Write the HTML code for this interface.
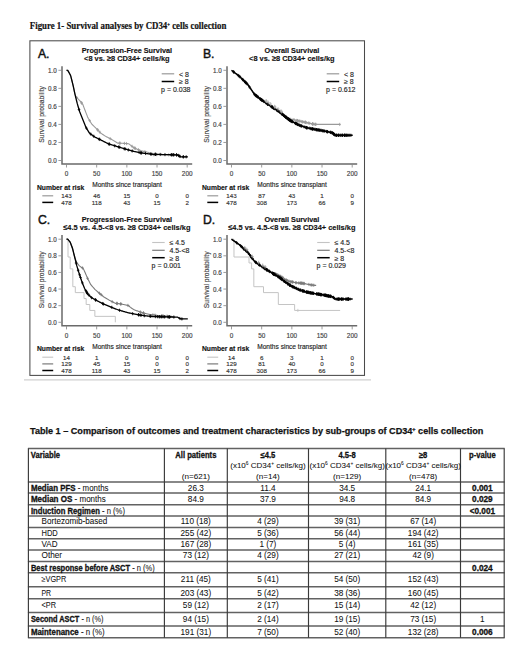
<!DOCTYPE html>
<html><head><meta charset="utf-8"><title>Figure 1 and Table 1</title>
<style>
html,body{margin:0;padding:0;background:#fff;}
body{width:520px;height:659px;overflow:hidden;position:relative;}
svg{position:absolute;left:0;top:0;font-family:"Liberation Sans", sans-serif;}
text{paint-order:stroke;}
.tb text{stroke:#111;stroke-width:0.06px;}
.tb [font-weight=bold]{stroke:#000;stroke-width:0.28px;}
.ch text{stroke:#333;stroke-width:0.15px;}
</style></head><body>
<svg width="520" height="659" viewBox="0 0 520 659">
<rect x="0" y="0" width="520" height="659" fill="#fff"/>
<text transform="translate(29.8,29.4) scale(0.85,1)" font-family='"Liberation Serif", serif' font-size="10.4" font-weight="bold" fill="#111" style="stroke:#111;stroke-width:0.2px">Figure 1- Survival analyses by CD34<tspan font-size="5.5" dy="-2.6">+</tspan><tspan dy="2.6"> cells collection</tspan></text>
<rect x="29.9" y="40.8" width="334.6" height="334.6" fill="none" stroke="#4a4a4a" stroke-width="1.05"/>
<path d="M24 379.8H371" stroke="#d0d0d0" stroke-width="1.2"/>
<g class="ch"><text x="37.9" y="57.5" font-size="12.2" fill="#111" style="stroke:#111;stroke-width:0.45px">A.</text>
<text transform="translate(126.85,52.6) scale(0.925,1)" font-size="7.85" font-weight="bold" text-anchor="middle" fill="#111">Progression-Free Survival</text>
<text transform="translate(126.85,61.0) scale(0.945,1)" font-size="7.85" font-weight="bold" text-anchor="middle" fill="#111">&lt;8 vs. ≥8 CD34+ cells/kg</text>
<path d="M62.00 66.3V163.90H192.20" stroke="#6a6a6a" stroke-width="1.5" fill="none"/>
<text x="56.7" y="163.10" font-size="6.3" text-anchor="end" fill="#444">0.0</text>
<text x="56.7" y="145.06" font-size="6.3" text-anchor="end" fill="#444">0.2</text>
<text x="56.7" y="127.02" font-size="6.3" text-anchor="end" fill="#444">0.4</text>
<text x="56.7" y="108.98" font-size="6.3" text-anchor="end" fill="#444">0.6</text>
<text x="56.7" y="90.94" font-size="6.3" text-anchor="end" fill="#444">0.8</text>
<text x="56.7" y="72.90" font-size="6.3" text-anchor="end" fill="#444">1.0</text>
<text x="66.50" y="175.8" font-size="6.4" text-anchor="middle" fill="#444">0</text>
<text x="96.67" y="175.8" font-size="6.4" text-anchor="middle" fill="#444">50</text>
<text x="126.85" y="175.8" font-size="6.4" text-anchor="middle" fill="#444">100</text>
<text x="157.03" y="175.8" font-size="6.4" text-anchor="middle" fill="#444">150</text>
<text x="187.20" y="175.8" font-size="6.4" text-anchor="middle" fill="#444">200</text>
<path d="M58.40 160.50H62.00M58.40 142.46H62.00M58.40 124.42H62.00M58.40 106.38H62.00M58.40 88.34H62.00M58.40 70.30H62.00M66.50 163.9V167.50M96.67 163.9V167.50M126.85 163.9V167.50M157.03 163.9V167.50M187.20 163.9V167.50" stroke="#8a8a8a" stroke-width="0.85" fill="none"/>
<text transform="translate(44.2,114.4) rotate(-90)" font-size="6.75" text-anchor="middle" fill="#444">Survival probability</text>
<path d="M66.50 70.30L67.10 70.30L67.71 70.30L68.31 71.37L68.91 72.44L69.52 73.51L70.12 74.58L70.72 75.92L71.33 78.32L71.93 80.72L72.53 83.11L73.14 85.67L73.74 88.47L74.35 91.27L74.95 94.07L75.55 95.74L76.16 96.64L76.76 97.51L77.36 98.14L77.97 98.78L78.57 99.41L79.17 100.04L79.78 100.68L80.38 101.42L80.98 102.17L81.59 102.91L82.19 103.65L82.79 104.40L83.40 106.00L84.00 107.61L84.61 109.22L85.21 110.81L85.81 112.34L86.42 113.88L87.02 115.41L87.62 116.94L88.23 118.31L88.83 119.28L89.43 120.26L90.04 121.23L90.64 122.20L91.24 123.18L91.85 124.15L92.45 124.74L93.05 125.34L93.66 125.93L94.26 126.52L94.86 127.12L95.47 127.71L96.07 128.30L96.67 128.91L97.28 129.53L97.88 130.15L98.49 130.77L99.09 131.39L99.69 132.02L100.30 132.64L100.90 133.26L101.50 133.65L102.11 134.04L102.71 134.43L103.31 134.83L103.92 135.22L104.52 135.61L105.12 136.00L105.73 136.36L106.33 136.67L106.93 136.99L107.54 137.30L108.14 137.61L108.75 137.92L109.35 138.24L109.95 138.55L110.56 138.86L111.16 139.17L111.76 139.50L112.37 139.87L112.97 140.24L113.57 140.60L114.18 140.97L114.78 141.33L115.38 141.70L115.99 142.07L116.59 142.43L117.19 142.80L117.80 143.10L118.40 143.12L119.00 143.15L119.61 143.18L120.21 143.21L120.81 143.23L121.42 143.26L122.02 143.29L122.63 143.32L123.23 143.34L123.83 143.38L124.44 143.42L125.04 143.46L125.64 143.51L126.25 143.55L126.85 143.59L127.45 143.64L128.06 143.68L128.66 143.72L129.26 144.18L129.87 144.64L130.47 145.10L131.07 145.57L131.68 146.03L132.28 146.49L132.88 146.95L133.49 147.41L134.09 147.87L134.70 148.20L135.30 148.44L135.90 148.68L136.51 148.92L137.11 149.16L137.71 149.40L138.32 149.64L138.92 149.88L139.52 150.12L140.13 150.36L140.73 150.60L141.33 150.84L141.94 151.02L142.54 151.14L143.14 151.27L143.75 151.40L144.35 151.53L144.95 151.65L145.56 151.78L146.16 151.91L146.77 152.04L147.37 152.17L147.97 152.29L148.58 152.42L149.18 152.74L149.78 153.19L150.39 153.64L150.99 154.10L151.59 154.55L152.20 154.56L152.80 154.57L153.40 154.58L154.01 154.58L154.61 154.59L155.21 154.60L155.82 154.61L156.42 154.62L157.03 154.63L157.63 154.64L158.23 154.65L158.84 154.66L159.44 154.67L160.04 154.68L160.65 154.69L161.25 154.70L161.85 154.71L162.46 154.72L163.06 154.73L163.66 154.74L164.27 154.76L164.87 154.77L165.47 154.79L166.08 154.80L166.68 154.82L167.28 154.83L167.89 154.85L168.49 154.86L169.10 154.88L169.70 154.89L170.30 154.91" stroke="#9a9a9a" stroke-width="1.1" fill="none"/>
<path d="M76.78 95.94V99.14M75.50 97.54H78.06M81.54 101.25V104.45M80.26 102.85H82.82M81.68 101.43V104.63M80.40 103.03H82.96M89.64 118.99V122.19M88.36 120.59H90.92M97.47 128.13V131.33M96.19 129.73H98.75M97.81 128.48V131.68M96.53 130.08H99.09M99.81 130.54V133.74M98.53 132.14H101.09M110.16 137.06V140.26M108.88 138.66H111.44M119.54 141.58V144.78M118.26 143.18H120.82M120.11 141.60V144.80M118.83 143.20H121.39M124.49 141.82V145.02M123.21 143.42H125.77M126.46 141.96V145.16M125.18 143.56H127.74M132.04 144.71V147.91M130.76 146.31H133.32M134.08 146.26V149.46M132.80 147.86H135.36M134.94 146.69V149.89M133.66 148.29H136.22M135.33 146.85V150.05M134.05 148.45H136.61M138.36 148.06V151.26M137.08 149.66H139.64M144.89 150.04V153.24M143.61 151.64H146.17M153.80 152.98V156.18M152.52 154.58H155.08M153.89 152.98V156.18M152.61 154.58H155.17M156.75 153.03V156.23M155.47 154.63H158.03M168.69 153.27V156.47M167.41 154.87H169.97" stroke="#9a9a9a" stroke-width="0.8" fill="none"/>
<path d="M66.50 70.30L67.10 70.30L67.71 70.30L68.31 71.37L68.91 72.44L69.52 73.51L70.12 74.58L70.72 75.92L71.33 78.32L71.93 80.72L72.53 83.11L73.14 85.67L73.74 88.47L74.35 91.27L74.95 94.07L75.55 96.65L76.16 99.07L76.76 101.49L77.36 103.91L77.97 106.01L78.57 108.04L79.17 110.06L79.78 112.03L80.38 113.54L80.98 115.04L81.59 116.54L82.19 118.05L82.79 119.55L83.40 121.06L84.00 122.58L84.61 124.10L85.21 125.61L85.81 127.13L86.42 128.12L87.02 129.10L87.62 130.09L88.23 131.08L88.83 132.07L89.43 133.06L90.04 133.60L90.64 134.03L91.24 134.47L91.85 134.90L92.45 135.33L93.05 135.76L93.66 136.19L94.26 136.62L94.86 137.05L95.47 137.35L96.07 137.64L96.67 137.94L97.28 138.24L97.88 138.54L98.49 138.83L99.09 139.13L99.69 139.43L100.30 139.73L100.90 140.02L101.50 140.33L102.11 140.64L102.71 140.94L103.31 141.25L103.92 141.55L104.52 141.86L105.12 142.16L105.73 142.47L106.33 142.77L106.93 143.08L107.54 143.38L108.14 143.69L108.75 143.96L109.35 144.14L109.95 144.32L110.56 144.51L111.16 144.69L111.76 144.87L112.37 145.06L112.97 145.24L113.57 145.42L114.18 145.61L114.78 145.79L115.38 145.97L115.99 146.16L116.59 146.34L117.19 146.53L117.80 146.71L118.40 146.90L119.00 147.08L119.61 147.27L120.21 147.45L120.81 147.64L121.42 147.82L122.02 148.00L122.63 148.19L123.23 148.37L123.83 148.56L124.44 148.75L125.04 148.93L125.64 149.12L126.25 149.31L126.85 149.49L127.45 149.67L128.06 149.82L128.66 149.98L129.26 150.14L129.87 150.30L130.47 150.46L131.07 150.62L131.68 150.78L132.28 150.94L132.88 151.10L133.49 151.26L134.09 151.42L134.70 151.55L135.30 151.67L135.90 151.79L136.51 151.91L137.11 152.03L137.71 152.15L138.32 152.27L138.92 152.38L139.52 152.50L140.13 152.62L140.73 152.74L141.33 152.86L141.94 152.98L142.54 153.10L143.14 153.21L143.75 153.27L144.35 153.34L144.95 153.40L145.56 153.47L146.16 153.53L146.77 153.60L147.37 153.66L147.97 153.73L148.58 153.79L149.18 153.85L149.78 153.92L150.39 153.98L150.99 154.05L151.59 154.11L152.20 154.18L152.80 154.24L153.40 154.28L154.01 154.30L154.61 154.32L155.21 154.33L155.82 154.35L156.42 154.37L157.03 154.38L157.63 154.40L158.23 154.42L158.84 154.43L159.44 154.45L160.04 154.46L160.65 154.48L161.25 154.50L161.85 154.51L162.46 154.53L163.06 154.55L163.66 154.56L164.27 154.58L164.87 154.59L165.47 154.61L166.08 154.62L166.68 154.64L167.28 154.65L167.89 154.67L168.49 154.68L169.10 154.70L169.70 154.71L170.30 154.73L170.91 154.74L171.51 154.76L172.11 154.77L172.72 154.79L173.32 154.80L173.92 154.82L174.53 154.83L175.13 154.85L175.73 154.86L176.34 154.88L176.94 154.89L177.54 154.91L178.15 155.29L178.75 155.67L179.35 156.04L179.96 156.42L180.56 156.80L181.17 156.80L181.77 156.80L182.37 156.80L182.98 156.80L183.58 156.80L184.18 156.80L184.79 156.80L185.39 156.80L185.99 156.80L186.60 156.80L187.20 156.80L187.80 156.80" stroke="#000" stroke-width="1.3" fill="none"/>
<path d="M79.01 107.93V111.13M77.73 109.53H80.29M86.43 126.54V129.74M85.15 128.14H87.71M90.73 132.50V135.70M89.45 134.10H92.01M93.76 134.66V137.86M92.48 136.26H95.04M99.12 137.55V140.75M97.84 139.15H100.40M99.78 137.87V141.07M98.50 139.47H101.06M109.16 142.48V145.68M107.88 144.08H110.44M109.19 142.49V145.69M107.91 144.09H110.47M114.73 144.18V147.38M113.45 145.78H116.01M118.63 145.37V148.57M117.35 146.97H119.91M119.65 145.68V148.88M118.37 147.28H120.93M124.25 147.09V150.29M122.97 148.69H125.53M125.19 147.38V150.58M123.91 148.98H126.47M128.33 148.30V151.50M127.05 149.90H129.61M132.18 149.31V152.51M130.90 150.91H133.46M139.09 150.82V154.02M137.81 152.42H140.37M140.78 151.15V154.35M139.50 152.75H142.06M140.87 151.17V154.37M139.59 152.77H142.15M141.55 151.30V154.50M140.27 152.90H142.83M145.52 151.86V155.06M144.24 153.46H146.80M150.50 152.40V155.60M149.22 154.00H151.78M151.69 152.52V155.72M150.41 154.12H152.97M155.25 152.73V155.93M153.97 154.33H156.53M155.28 152.74V155.94M154.00 154.34H156.56M155.81 152.75V155.95M154.53 154.35H157.09M160.21 152.87V156.07M158.93 154.47H161.49M164.97 152.99V156.19M163.69 154.59H166.25M171.17 153.15V156.35M169.89 154.75H172.45M171.64 153.16V156.36M170.36 154.76H172.92M172.19 153.17V156.37M170.91 154.77H173.47M173.67 153.21V156.41M172.39 154.81H174.95M173.68 153.21V156.41M172.40 154.81H174.96M176.50 153.28V156.48M175.22 154.88H177.78M176.56 153.28V156.48M175.28 154.88H177.84M178.39 153.84V157.04M177.11 155.44H179.67M179.27 154.39V157.59M177.99 155.99H180.55M180.01 154.85V158.05M178.73 156.45H181.29M183.25 155.20V158.40M181.97 156.80H184.53M183.35 155.20V158.40M182.07 156.80H184.63M186.19 155.20V158.40M184.91 156.80H187.47" stroke="#000" stroke-width="0.8" fill="none"/>
<path d="M161.7 73.8H174.2" stroke="#9a9a9a" stroke-width="1.2"/>
<text x="179.0" y="76.6" font-size="7.0" fill="#222">&lt; 8</text>
<path d="M161.7 81.5H174.2" stroke="#000" stroke-width="1.5"/>
<text x="179.0" y="84.2" font-size="7.0" fill="#222">≥ 8</text>
<text x="161.1" y="92.0" font-size="7.0" fill="#222">p = 0.038</text>
<text x="36.9" y="189.6" font-size="6.75" font-weight="bold" fill="#111">Number at risk</text>
<text x="92.2" y="186.9" font-size="6.6" fill="#222">Months since transplant</text>
<path d="M42.3 195.8H53.2" stroke="#9a9a9a" stroke-width="1.2"/>
<text x="66.50" y="198.1" font-size="6.2" text-anchor="middle" fill="#333">143</text>
<text x="96.67" y="198.1" font-size="6.2" text-anchor="middle" fill="#333">46</text>
<text x="126.85" y="198.1" font-size="6.2" text-anchor="middle" fill="#333">15</text>
<text x="157.03" y="198.1" font-size="6.2" text-anchor="middle" fill="#333">0</text>
<text x="187.20" y="198.1" font-size="6.2" text-anchor="middle" fill="#333">0</text>
<path d="M42.3 202.4H53.2" stroke="#000" stroke-width="1.5"/>
<text x="66.50" y="205.0" font-size="6.2" text-anchor="middle" fill="#333">478</text>
<text x="96.67" y="205.0" font-size="6.2" text-anchor="middle" fill="#333">118</text>
<text x="126.85" y="205.0" font-size="6.2" text-anchor="middle" fill="#333">43</text>
<text x="157.03" y="205.0" font-size="6.2" text-anchor="middle" fill="#333">15</text>
<text x="187.20" y="205.0" font-size="6.2" text-anchor="middle" fill="#333">2</text>
<text x="202.9" y="57.5" font-size="12.2" fill="#111" style="stroke:#111;stroke-width:0.45px">B.</text>
<text transform="translate(291.85,52.6) scale(0.925,1)" font-size="7.85" font-weight="bold" text-anchor="middle" fill="#111">Overall Survival</text>
<text transform="translate(291.85,61.0) scale(0.945,1)" font-size="7.85" font-weight="bold" text-anchor="middle" fill="#111">&lt;8 vs. ≥8 CD34+ cells/kg</text>
<path d="M227.00 66.3V163.90H357.20" stroke="#6a6a6a" stroke-width="1.5" fill="none"/>
<text x="221.7" y="163.10" font-size="6.3" text-anchor="end" fill="#444">0.0</text>
<text x="221.7" y="145.06" font-size="6.3" text-anchor="end" fill="#444">0.2</text>
<text x="221.7" y="127.02" font-size="6.3" text-anchor="end" fill="#444">0.4</text>
<text x="221.7" y="108.98" font-size="6.3" text-anchor="end" fill="#444">0.6</text>
<text x="221.7" y="90.94" font-size="6.3" text-anchor="end" fill="#444">0.8</text>
<text x="221.7" y="72.90" font-size="6.3" text-anchor="end" fill="#444">1.0</text>
<text x="231.50" y="175.8" font-size="6.4" text-anchor="middle" fill="#444">0</text>
<text x="261.68" y="175.8" font-size="6.4" text-anchor="middle" fill="#444">50</text>
<text x="291.85" y="175.8" font-size="6.4" text-anchor="middle" fill="#444">100</text>
<text x="322.02" y="175.8" font-size="6.4" text-anchor="middle" fill="#444">150</text>
<text x="352.20" y="175.8" font-size="6.4" text-anchor="middle" fill="#444">200</text>
<path d="M223.40 160.50H227.00M223.40 142.46H227.00M223.40 124.42H227.00M223.40 106.38H227.00M223.40 88.34H227.00M223.40 70.30H227.00M231.50 163.9V167.50M261.68 163.9V167.50M291.85 163.9V167.50M322.02 163.9V167.50M352.20 163.9V167.50" stroke="#8a8a8a" stroke-width="0.85" fill="none"/>
<text transform="translate(209.2,114.4) rotate(-90)" font-size="6.75" text-anchor="middle" fill="#444">Survival probability</text>
<path d="M231.50 70.30L232.10 70.76L232.71 71.22L233.31 71.67L233.91 72.13L234.52 72.59L235.12 73.05L235.72 73.51L236.33 73.96L236.93 74.42L237.53 74.88L238.14 75.34L238.74 75.80L239.35 76.25L239.95 76.85L240.55 77.44L241.16 78.03L241.76 78.62L242.36 79.22L242.97 79.81L243.57 80.40L244.17 81.00L244.78 81.59L245.38 82.18L245.98 82.77L246.59 83.37L247.19 83.96L247.79 84.55L248.40 85.43L249.00 86.31L249.60 87.19L250.21 88.06L250.81 88.94L251.42 89.82L252.02 90.70L252.62 91.58L253.23 92.45L253.83 93.33L254.43 94.21L255.04 94.81L255.64 95.28L256.24 95.76L256.85 96.23L257.45 96.71L258.05 97.18L258.66 97.66L259.26 98.13L259.86 98.61L260.47 99.08L261.07 99.56L261.68 100.00L262.28 100.40L262.88 100.81L263.49 101.22L264.09 101.62L264.69 102.03L265.30 102.44L265.90 102.84L266.50 103.25L267.11 103.65L267.71 104.06L268.31 104.47L268.92 104.87L269.52 105.28L270.12 105.69L270.73 106.09L271.33 106.48L271.93 106.88L272.54 107.28L273.14 107.68L273.75 108.07L274.35 108.47L274.95 108.87L275.56 109.26L276.16 109.66L276.76 110.06L277.37 110.45L277.97 110.85L278.57 111.25L279.18 111.64L279.78 112.09L280.38 112.60L280.99 113.11L281.59 113.62L282.19 114.13L282.80 114.64L283.40 115.15L284.00 115.66L284.61 116.18L285.21 116.64L285.81 117.05L286.42 117.45L287.02 117.85L287.63 118.25L288.23 118.65L288.83 119.06L289.44 119.46L290.04 119.50L290.64 119.54L291.25 119.57L291.85 119.61L292.45 119.65L293.06 119.69L293.66 119.73L294.26 119.87L294.87 120.01L295.47 120.15L296.07 120.30L296.68 120.44L297.28 120.58L297.88 120.72L298.49 120.86L299.09 121.01L299.70 121.15L300.30 121.29L300.90 121.43L301.51 121.57L302.11 121.71L302.71 121.84L303.32 121.96L303.92 122.09L304.52 122.21L305.13 122.34L305.73 122.46L306.33 122.59L306.94 122.71L307.54 122.84L308.14 122.96L308.75 123.09L309.35 123.21L309.95 123.34L310.56 123.48L311.16 123.62L311.77 123.76L312.37 123.90L312.97 124.04L313.58 124.18L314.18 124.27L314.78 124.32L315.39 124.37L315.99 124.42L316.59 124.42L317.20 124.42L317.80 124.42L318.40 124.42L319.01 124.42L319.61 124.42L320.21 124.42L320.82 124.42L321.42 124.42L322.02 124.42L322.63 124.42L323.23 124.42L323.84 124.42L324.44 124.42L325.04 124.42L325.65 124.42L326.25 124.42L326.85 124.42L327.46 124.42L328.06 124.42L328.66 124.42L329.27 124.42L329.87 124.42L330.47 124.42L331.08 124.42L331.68 124.42L332.28 124.42L332.89 124.42L333.49 124.42L334.10 124.42L334.70 124.42L335.30 124.42L335.91 124.42L336.51 124.42L337.11 124.42L337.72 124.42L338.32 124.42L338.92 124.42L339.53 124.42L339.71 124.42" stroke="#9a9a9a" stroke-width="1.2" fill="none"/>
<path d="M237.96 73.61V76.81M236.68 75.21H239.24M239.33 74.64V77.84M238.05 76.24H240.61M242.71 77.95V81.15M241.43 79.55H243.99M249.99 86.15V89.35M248.71 87.75H251.27M256.81 94.60V97.80M255.53 96.20H258.09M265.67 101.09V104.29M264.39 102.69H266.95M278.00 109.27V112.47M276.72 110.87H279.28M279.69 110.41V113.61M278.41 112.01H280.97M280.90 111.43V114.63M279.62 113.03H282.18M288.28 117.09V120.29M287.00 118.69H289.56M289.68 117.87V121.07M288.40 119.47H290.96M289.98 117.89V121.09M288.70 119.49H291.26M290.03 117.90V121.10M288.75 119.50H291.31M290.05 117.90V121.10M288.77 119.50H291.33M290.92 117.95V121.15M289.64 119.55H292.20M293.07 118.09V121.29M291.79 119.69H294.35M294.19 118.25V121.45M292.91 119.85H295.47M296.81 118.87V122.07M295.53 120.47H298.09M297.24 118.97V122.17M295.96 120.57H298.52M297.36 119.00V122.20M296.08 120.60H298.64M297.82 119.11V122.31M296.54 120.71H299.10M299.09 119.41V122.61M297.81 121.01H300.37M299.91 119.60V122.80M298.63 121.20H301.19M301.34 119.93V123.13M300.06 121.53H302.62M302.56 120.21V123.41M301.28 121.81H303.84M302.96 120.29V123.49M301.68 121.89H304.24M305.01 120.71V123.91M303.73 122.31H306.29M305.12 120.74V123.94M303.84 122.34H306.40M305.41 120.80V124.00M304.13 122.40H306.69M305.52 120.82V124.02M304.24 122.42H306.80M306.32 120.99V124.19M305.04 122.59H307.60M308.34 121.40V124.60M307.06 123.00H309.62M309.71 121.69V124.89M308.43 123.29H310.99M312.40 122.31V125.51M311.12 123.91H313.68M312.53 122.34V125.54M311.25 123.94H313.81M312.76 122.39V125.59M311.48 123.99H314.04M313.18 122.49V125.69M311.90 124.09H314.46M314.87 122.73V125.93M313.59 124.33H316.15M315.46 122.78V125.98M314.18 124.38H316.74M315.95 122.82V126.02M314.67 124.42H317.23M339.71 122.82V126.02M338.43 124.42H340.99" stroke="#9a9a9a" stroke-width="0.8" fill="none"/>
<path d="M231.50 70.30L232.10 70.76L232.71 71.22L233.31 71.67L233.91 72.13L234.52 72.59L235.12 73.05L235.72 73.51L236.33 73.96L236.93 74.42L237.53 74.88L238.14 75.34L238.74 75.80L239.35 76.25L239.95 76.85L240.55 77.44L241.16 78.03L241.76 78.62L242.36 79.22L242.97 79.81L243.57 80.40L244.17 81.00L244.78 81.59L245.38 82.18L245.98 82.77L246.59 83.37L247.19 83.96L247.79 84.55L248.40 85.43L249.00 86.31L249.60 87.19L250.21 88.06L250.81 88.94L251.42 89.82L252.02 90.70L252.62 91.58L253.23 92.45L253.83 93.33L254.43 94.21L255.04 94.81L255.64 95.28L256.24 95.76L256.85 96.23L257.45 96.71L258.05 97.18L258.66 97.66L259.26 98.13L259.86 98.61L260.47 99.08L261.07 99.56L261.68 100.00L262.28 100.40L262.88 100.81L263.49 101.22L264.09 101.62L264.69 102.03L265.30 102.44L265.90 102.84L266.50 103.25L267.11 103.65L267.71 104.06L268.31 104.47L268.92 104.87L269.52 105.28L270.12 105.69L270.73 106.09L271.33 106.48L271.93 106.88L272.54 107.28L273.14 107.68L273.75 108.07L274.35 108.47L274.95 108.87L275.56 109.26L276.16 109.66L276.76 110.06L277.37 110.45L277.97 110.85L278.57 111.25L279.18 111.64L279.78 112.09L280.38 112.60L280.99 113.11L281.59 113.62L282.19 114.13L282.80 114.64L283.40 115.15L284.00 115.66L284.61 116.18L285.21 116.66L285.81 117.12L286.42 117.58L287.02 118.03L287.63 118.49L288.23 118.94L288.83 119.40L289.44 119.85L290.04 120.31L290.64 120.77L291.25 121.09L291.85 121.40L292.45 121.71L293.06 122.02L293.66 122.33L294.26 122.64L294.87 122.94L295.47 123.25L296.07 123.56L296.68 123.87L297.28 124.18L297.88 124.49L298.49 124.80L299.09 125.11L299.70 125.35L300.30 125.56L300.90 125.76L301.51 125.97L302.11 126.17L302.71 126.38L303.32 126.58L303.92 126.79L304.52 126.99L305.13 127.20L305.73 127.40L306.33 127.61L306.94 127.76L307.54 127.88L308.14 128.01L308.75 128.14L309.35 128.26L309.95 128.39L310.56 128.52L311.16 128.64L311.77 128.77L312.37 128.90L312.97 129.02L313.58 129.15L314.18 129.26L314.78 129.37L315.39 129.47L315.99 129.57L316.59 129.68L317.20 129.78L317.80 129.88L318.40 129.99L319.01 130.09L319.61 130.19L320.21 130.29L320.82 130.40L321.42 130.50L322.02 130.60L322.63 130.71L323.23 130.81L323.84 130.91L324.44 131.05L325.04 131.18L325.65 131.31L326.25 131.44L326.85 131.57L327.46 131.70L328.06 131.84L328.66 131.97L329.27 132.10L329.87 132.23L330.47 132.36L331.08 132.49L331.68 132.62L332.28 132.76L332.89 133.14L333.49 133.69L334.10 134.24L334.70 134.79L335.30 135.33L335.91 135.33L336.51 135.33L337.11 135.33L337.72 135.33L338.32 135.33L338.92 135.33L339.53 135.33L340.13 135.33L340.73 135.33L341.34 135.33L341.94 135.33L342.54 135.33L343.15 135.33L343.75 135.33L344.35 135.33L344.96 135.33L345.56 135.33L346.17 135.33L346.77 135.33L347.37 135.33L347.98 135.33L348.58 135.33L349.18 135.33L349.79 135.33L350.39 135.33L350.99 135.33L351.60 135.33L352.20 135.33L352.68 135.33" stroke="#000" stroke-width="1.5" fill="none"/>
<path d="M233.57 70.27V73.47M232.29 71.87H234.85M233.76 70.41V73.61M232.48 72.01H235.04M238.62 74.10V77.30M237.34 75.70H239.90M240.03 75.33V78.53M238.75 76.93H241.31M242.58 77.83V81.03M241.30 79.43H243.86M242.94 78.18V81.38M241.66 79.78H244.22M244.63 79.85V83.05M243.35 81.45H245.91M244.95 80.15V83.35M243.67 81.75H246.23M245.56 80.75V83.95M244.28 82.35H246.84M245.80 80.99V84.19M244.52 82.59H247.08M246.26 81.45V84.65M244.98 83.05H247.54M247.16 82.33V85.53M245.88 83.93H248.44M249.39 85.28V88.48M248.11 86.88H250.67M254.31 92.44V95.64M253.03 94.04H255.59M255.14 93.29V96.49M253.86 94.89H256.42M255.81 93.82V97.02M254.53 95.42H257.09M256.09 94.04V97.24M254.81 95.64H257.37M256.36 94.25V97.45M255.08 95.85H257.64M256.91 94.68V97.88M255.63 96.28H258.19M257.78 95.37V98.57M256.50 96.97H259.06M258.24 95.73V98.93M256.96 97.33H259.52M259.99 97.11V100.31M258.71 98.71H261.27M260.46 97.48V100.68M259.18 99.08H261.74M260.93 97.85V101.05M259.65 99.45H262.21M261.44 98.24V101.44M260.16 99.84H262.72M261.49 98.27V101.47M260.21 99.87H262.77M262.21 98.76V101.96M260.93 100.36H263.49M262.25 98.78V101.98M260.97 100.38H263.53M263.36 99.53V102.73M262.08 101.13H264.64M263.96 99.93V103.13M262.68 101.53H265.24M265.47 100.96V104.16M264.19 102.56H266.75M267.32 102.20V105.40M266.04 103.80H268.60M267.59 102.38V105.58M266.31 103.98H268.87M267.67 102.44V105.64M266.39 104.04H268.95M267.89 102.58V105.78M266.61 104.18H269.17M268.16 102.77V105.97M266.88 104.37H269.44M270.70 104.47V107.67M269.42 106.07H271.98M271.99 105.32V108.52M270.71 106.92H273.27M272.18 105.44V108.64M270.90 107.04H273.46M272.23 105.48V108.68M270.95 107.08H273.51M272.88 105.90V109.10M271.60 107.50H274.16M273.37 106.22V109.42M272.09 107.82H274.65M273.73 106.47V109.67M272.45 108.07H275.01M274.06 106.68V109.88M272.78 108.28H275.34M274.09 106.70V109.90M272.81 108.30H275.37M274.69 107.10V110.30M273.41 108.70H275.97M277.09 108.67V111.87M275.81 110.27H278.37M277.13 108.70V111.90M275.85 110.30H278.41M277.37 108.86V112.06M276.09 110.46H278.65M277.60 109.01V112.21M276.32 110.61H278.88M278.69 109.72V112.92M277.41 111.32H279.97M279.89 110.58V113.78M278.61 112.18H281.17M280.02 110.69V113.89M278.74 112.29H281.30M281.57 112.01V115.21M280.29 113.61H282.85M281.82 112.22V115.42M280.54 113.82H283.10M281.85 112.24V115.44M280.57 113.84H283.13M282.54 112.82V116.02M281.26 114.42H283.82M283.35 113.51V116.71M282.07 115.11H284.63M283.55 113.68V116.88M282.27 115.28H284.83M283.83 113.92V117.12M282.55 115.52H285.11M284.60 114.57V117.77M283.32 116.17H285.88M284.65 114.61V117.81M283.37 116.21H285.93M285.58 115.34V118.54M284.30 116.94H286.86M285.83 115.53V118.73M284.55 117.13H287.11M286.02 115.67V118.87M284.74 117.27H287.30M286.14 115.77V118.97M284.86 117.37H287.42M286.54 116.07V119.27M285.26 117.67H287.82M286.73 116.21V119.41M285.45 117.81H288.01M287.39 116.71V119.91M286.11 118.31H288.67M287.87 117.07V120.27M286.59 118.67H289.15M288.15 117.29V120.49M286.87 118.89H289.43M288.57 117.60V120.80M287.29 119.20H289.85M288.60 117.62V120.82M287.32 119.22H289.88M288.98 117.91V121.11M287.70 119.51H290.26M289.08 117.99V121.19M287.80 119.59H290.36M289.56 118.35V121.55M288.28 119.95H290.84M289.61 118.39V121.59M288.33 119.99H290.89M289.68 118.44V121.64M288.40 120.04H290.96M290.48 119.04V122.24M289.20 120.64H291.76M290.78 119.25V122.45M289.50 120.85H292.06M291.29 119.51V122.71M290.01 121.11H292.57M291.68 119.71V122.91M290.40 121.31H292.96M292.06 119.91V123.11M290.78 121.51H293.34M292.36 120.06V123.26M291.08 121.66H293.64M295.18 121.51V124.71M293.90 123.11H296.46M295.59 121.72V124.92M294.31 123.32H296.87M295.90 121.87V125.07M294.62 123.47H297.18M296.17 122.01V125.21M294.89 123.61H297.45M296.48 122.17V125.37M295.20 123.77H297.76M297.58 122.73V125.93M296.30 124.33H298.86M297.67 122.78V125.98M296.39 124.38H298.95M297.97 122.94V126.14M296.69 124.54H299.25M299.20 123.56V126.76M297.92 125.16H300.48M299.70 123.76V126.96M298.42 125.36H300.98M300.66 124.08V127.28M299.38 125.68H301.94M301.30 124.30V127.50M300.02 125.90H302.58M301.72 124.44V127.64M300.44 126.04H303.00M304.12 125.26V128.46M302.84 126.86H305.40M305.76 125.81V129.01M304.48 127.41H307.04M306.33 126.00V129.20M305.05 127.60H307.61M306.55 126.08V129.28M305.27 127.68H307.83M306.78 126.12V129.32M305.50 127.72H308.06M307.26 126.22V129.42M305.98 127.82H308.54M309.28 126.65V129.85M308.00 128.25H310.56M310.61 126.93V130.13M309.33 128.53H311.89M311.35 127.08V130.28M310.07 128.68H312.63M312.28 127.28V130.48M311.00 128.88H313.56M312.48 127.32V130.52M311.20 128.92H313.76M312.87 127.40V130.60M311.59 129.00H314.15M313.15 127.46V130.66M311.87 129.06H314.43M314.75 127.76V130.96M313.47 129.36H316.03M315.10 127.82V131.02M313.82 129.42H316.38M316.22 128.01V131.21M314.94 129.61H317.50M316.34 128.03V131.23M315.06 129.63H317.62M316.68 128.09V131.29M315.40 129.69H317.96M317.63 128.25V131.45M316.35 129.85H318.91M318.11 128.33V131.53M316.83 129.93H319.39M318.43 128.39V131.59M317.15 129.99H319.71M319.65 128.60V131.80M318.37 130.20H320.93M319.66 128.60V131.80M318.38 130.20H320.94M320.92 128.82V132.02M319.64 130.42H322.20M321.23 128.87V132.07M319.95 130.47H322.51M322.62 129.11V132.31M321.34 130.71H323.90M323.05 129.18V132.38M321.77 130.78H324.33M323.90 129.33V132.53M322.62 130.93H325.18M324.78 129.52V132.72M323.50 131.12H326.06M326.63 129.92V133.12M325.35 131.52H327.91M326.90 129.98V133.18M325.62 131.58H328.18M327.61 130.14V133.34M326.33 131.74H328.89M327.63 130.14V133.34M326.35 131.74H328.91M330.21 130.70V133.90M328.93 132.30H331.49M330.62 130.79V133.99M329.34 132.39H331.90M331.18 130.92V134.12M329.90 132.52H332.46M332.08 131.11V134.31M330.80 132.71H333.36M332.30 131.16V134.36M331.02 132.76H333.58M333.26 131.87V135.07M331.98 133.47H334.54M333.47 132.07V135.27M332.19 133.67H334.75M333.49 132.09V135.29M332.21 133.69H334.77M333.54 132.13V135.33M332.26 133.73H334.82M333.59 132.17V135.37M332.31 133.77H334.87M333.87 132.43V135.63M332.59 134.03H335.15M334.51 133.01V136.21M333.23 134.61H335.79M335.16 133.60V136.80M333.88 135.20H336.44M336.13 133.73V136.93M334.85 135.33H337.41M336.43 133.73V136.93M335.15 135.33H337.71M336.60 133.73V136.93M335.32 135.33H337.88M338.15 133.73V136.93M336.87 135.33H339.43M338.25 133.73V136.93M336.97 135.33H339.53M338.84 133.73V136.93M337.56 135.33H340.12M338.93 133.73V136.93M337.65 135.33H340.21M340.61 133.73V136.93M339.33 135.33H341.89M341.09 133.73V136.93M339.81 135.33H342.37M342.21 133.73V136.93M340.93 135.33H343.49M342.51 133.73V136.93M341.23 135.33H343.79M342.89 133.73V136.93M341.61 135.33H344.17M344.53 133.73V136.93M343.25 135.33H345.81M344.65 133.73V136.93M343.37 135.33H345.93M344.85 133.73V136.93M343.57 135.33H346.13M345.19 133.73V136.93M343.91 135.33H346.47M346.31 133.73V136.93M345.03 135.33H347.59M346.72 133.73V136.93M345.44 135.33H348.00M347.39 133.73V136.93M346.11 135.33H348.67M348.66 133.73V136.93M347.38 135.33H349.94M349.76 133.73V136.93M348.48 135.33H351.04M350.94 133.73V136.93M349.66 135.33H352.22" stroke="#000" stroke-width="0.8" fill="none"/>
<path d="M266.11 99.20V102.80M264.67 101.00H267.55M266.39 99.39V102.99M264.95 101.19H267.83M268.25 100.64V104.24M266.81 102.44H269.69M270.59 102.21V105.81M269.15 104.01H272.03M274.51 104.79V108.39M273.07 106.59H275.95M275.18 105.23V108.83M273.74 107.03H276.62M278.07 107.13V110.73M276.63 108.93H279.51M280.96 109.30V112.90M279.52 111.10H282.40M281.63 109.87V113.47M280.19 111.67H283.07" stroke="#b0b0b0" stroke-width="0.8" fill="none"/>
<path d="M326.7 73.8H339.2" stroke="#9a9a9a" stroke-width="1.2"/>
<text x="344.0" y="76.6" font-size="7.0" fill="#222">&lt; 8</text>
<path d="M326.7 81.5H339.2" stroke="#000" stroke-width="1.5"/>
<text x="344.0" y="84.2" font-size="7.0" fill="#222">≥ 8</text>
<text x="326.1" y="92.0" font-size="7.0" fill="#222">p = 0.612</text>
<text x="201.9" y="189.6" font-size="6.75" font-weight="bold" fill="#111">Number at risk</text>
<text x="257.2" y="186.9" font-size="6.6" fill="#222">Months since transplant</text>
<path d="M207.3 195.8H218.2" stroke="#9a9a9a" stroke-width="1.2"/>
<text x="231.50" y="198.1" font-size="6.2" text-anchor="middle" fill="#333">143</text>
<text x="261.68" y="198.1" font-size="6.2" text-anchor="middle" fill="#333">87</text>
<text x="291.85" y="198.1" font-size="6.2" text-anchor="middle" fill="#333">43</text>
<text x="322.02" y="198.1" font-size="6.2" text-anchor="middle" fill="#333">1</text>
<text x="352.20" y="198.1" font-size="6.2" text-anchor="middle" fill="#333">0</text>
<path d="M207.3 202.4H218.2" stroke="#000" stroke-width="1.5"/>
<text x="231.50" y="205.0" font-size="6.2" text-anchor="middle" fill="#333">478</text>
<text x="261.68" y="205.0" font-size="6.2" text-anchor="middle" fill="#333">308</text>
<text x="291.85" y="205.0" font-size="6.2" text-anchor="middle" fill="#333">173</text>
<text x="322.02" y="205.0" font-size="6.2" text-anchor="middle" fill="#333">66</text>
<text x="352.20" y="205.0" font-size="6.2" text-anchor="middle" fill="#333">9</text>
<text x="37.9" y="224.0" font-size="12.2" fill="#111" style="stroke:#111;stroke-width:0.45px">C.</text>
<text transform="translate(126.85,221.5) scale(0.925,1)" font-size="7.85" font-weight="bold" text-anchor="middle" fill="#111">Progression-Free Survival</text>
<text transform="translate(126.85,229.6) scale(0.945,1)" font-size="7.85" font-weight="bold" text-anchor="middle" fill="#111">≤4.5 vs. 4.5-&lt;8 vs. ≥8 CD34+ cells/kg</text>
<path d="M62.00 235.0V325.80H192.20" stroke="#6a6a6a" stroke-width="1.5" fill="none"/>
<text x="56.7" y="324.90" font-size="6.3" text-anchor="end" fill="#444">0.0</text>
<text x="56.7" y="308.28" font-size="6.3" text-anchor="end" fill="#444">0.2</text>
<text x="56.7" y="291.66" font-size="6.3" text-anchor="end" fill="#444">0.4</text>
<text x="56.7" y="275.04" font-size="6.3" text-anchor="end" fill="#444">0.6</text>
<text x="56.7" y="258.42" font-size="6.3" text-anchor="end" fill="#444">0.8</text>
<text x="56.7" y="241.80" font-size="6.3" text-anchor="end" fill="#444">1.0</text>
<text x="66.50" y="337.5" font-size="6.4" text-anchor="middle" fill="#444">0</text>
<text x="96.67" y="337.5" font-size="6.4" text-anchor="middle" fill="#444">50</text>
<text x="126.85" y="337.5" font-size="6.4" text-anchor="middle" fill="#444">100</text>
<text x="157.03" y="337.5" font-size="6.4" text-anchor="middle" fill="#444">150</text>
<text x="187.20" y="337.5" font-size="6.4" text-anchor="middle" fill="#444">200</text>
<path d="M58.40 322.30H62.00M58.40 305.68H62.00M58.40 289.06H62.00M58.40 272.44H62.00M58.40 255.82H62.00M58.40 239.20H62.00M66.50 325.8V329.40M96.67 325.8V329.40M126.85 325.8V329.40M157.03 325.8V329.40M187.20 325.8V329.40" stroke="#8a8a8a" stroke-width="0.85" fill="none"/>
<text transform="translate(44.2,279.8) rotate(-90)" font-size="6.75" text-anchor="middle" fill="#444">Survival probability</text>
<path d="M66.50 239.20H68.01H68.01V257.01H70.18H70.18V268.88H72.84H72.84V286.69H75.31H75.31V292.62H84.00H84.00V298.56H86.17H86.17V304.49H89.80H89.80V310.43H94.86H94.86V316.36H115.32H115.32V322.30" stroke="#c4c4c4" stroke-width="1.0" fill="none"/>
<path d="M66.50 239.20L67.10 239.20L67.71 239.20L68.31 239.93L68.91 240.66L69.52 241.39L70.12 242.12L70.72 243.61L71.33 245.18L71.93 246.75L72.53 248.49L73.14 250.92L73.74 253.34L74.35 255.76L74.95 257.72L75.55 259.36L76.16 260.99L76.76 262.55L77.36 263.36L77.97 264.17L78.57 264.97L79.17 265.65L79.78 266.11L80.38 266.57L80.98 267.04L81.59 267.41L82.19 267.78L82.79 268.15L83.40 268.73L84.00 270.10L84.61 271.47L85.21 272.84L85.81 274.22L86.42 275.63L87.02 277.04L87.62 278.45L88.23 279.66L88.83 280.84L89.43 282.03L90.04 283.22L90.64 284.41L91.24 285.12L91.85 285.83L92.45 286.55L93.05 287.26L93.66 287.98L94.26 288.69L94.86 289.40L95.47 289.93L96.07 290.44L96.67 290.95L97.28 291.46L97.88 291.96L98.49 292.47L99.09 292.98L99.69 293.48L100.30 293.98L100.90 294.48L101.50 294.99L102.11 295.49L102.71 295.99L103.31 296.49L103.92 296.94L104.52 297.30L105.12 297.67L105.73 298.04L106.33 298.41L106.93 298.78L107.54 299.15L108.14 299.51L108.75 299.88L109.35 300.25L109.95 300.57L110.56 300.88L111.16 301.18L111.76 301.48L112.37 301.79L112.97 302.09L113.57 302.39L114.18 302.69L114.78 303.00L115.38 303.28L115.99 303.36L116.59 303.43L117.19 303.51L117.80 303.59L118.40 303.67L119.00 303.75L119.61 303.82L120.21 303.90L120.81 303.98L121.42 304.08L122.02 304.20L122.63 304.33L123.23 304.45L123.83 304.57L124.44 304.70L125.04 304.82L125.64 304.95L126.25 305.07L126.85 305.19L127.45 305.32L128.06 305.44L128.66 305.73L129.26 306.27L129.87 306.80L130.47 307.34L131.07 307.76L131.68 308.17L132.28 308.59L132.88 309.00L133.49 309.42L134.09 309.84L134.70 310.04L135.30 310.25L135.90 310.46L136.51 310.67L137.11 310.87L137.71 311.08L138.32 311.29L138.92 311.50L139.52 311.70L140.13 311.91L140.73 312.12L141.33 312.33L141.94 312.54L142.54 312.74L143.14 312.95L143.75 313.16L144.35 313.29L144.95 313.41L145.56 313.54L146.16 313.67L146.77 313.80L147.37 313.93L147.97 314.05L148.58 314.18L149.18 314.31L149.78 314.44L150.39 314.57L150.99 314.69L151.59 314.82L152.20 314.89L152.80 314.95L153.40 315.02L154.01 315.08L154.61 315.15L155.21 315.21L155.82 315.28L156.42 315.35L157.03 315.41L157.63 315.48L158.23 315.54L158.84 315.61L159.44 315.67L160.04 315.74L160.65 315.81L161.25 315.87L161.85 315.94L162.46 316.00L163.06 316.07L163.66 316.09L164.27 316.12L164.87 316.14L165.47 316.17L166.08 316.19L166.68 316.21L167.28 316.24L167.89 316.26L168.49 316.29L169.10 316.31L169.70 316.34L170.30 316.36L170.91 316.39L171.51 316.41L172.11 316.43L172.72 316.46L173.32 316.48" stroke="#7a7a7a" stroke-width="1.1" fill="none"/>
<path d="M82.55 266.40V269.60M81.27 268.00H83.83M87.59 276.78V279.98M86.31 278.38H88.87M99.51 291.73V294.93M98.23 293.33H100.79M101.19 293.12V296.32M99.91 294.72H102.47M112.14 300.07V303.27M110.86 301.67H113.42M116.66 301.84V305.04M115.38 303.44H117.94M117.09 301.90V305.10M115.81 303.50H118.37M117.19 301.91V305.11M115.91 303.51H118.47M120.61 302.35V305.55M119.33 303.95H121.89M120.93 302.39V305.59M119.65 303.99H122.21M127.94 303.82V307.02M126.66 305.42H129.22M140.30 310.37V313.57M139.02 311.97H141.58M143.41 311.44V314.64M142.13 313.04H144.69M143.52 311.48V314.68M142.24 313.08H144.80M152.88 313.36V316.56M151.60 314.96H154.16M155.06 313.60V316.80M153.78 315.20H156.34M161.56 314.30V317.50M160.28 315.90H162.84M162.31 314.39V317.59M161.03 315.99H163.59M163.33 314.48V317.68M162.05 316.08H164.61M167.11 314.63V317.83M165.83 316.23H168.39" stroke="#7a7a7a" stroke-width="0.8" fill="none"/>
<path d="M66.50 239.20L67.10 239.20L67.71 239.20L68.31 239.93L68.91 240.66L69.52 241.39L70.12 242.12L70.72 243.61L71.33 245.18L71.93 246.75L72.53 248.49L73.14 250.92L73.74 253.34L74.35 255.76L74.95 258.23L75.55 260.72L76.16 263.22L76.76 265.66L77.36 267.63L77.97 269.61L78.57 271.59L79.17 273.50L79.78 275.32L80.38 277.14L80.98 278.95L81.59 280.77L82.19 282.41L82.79 283.94L83.40 285.46L84.00 286.98L84.61 288.51L85.21 289.64L85.81 290.67L86.42 291.71L87.02 292.74L87.62 293.78L88.23 294.43L88.83 295.04L89.43 295.65L90.04 296.26L90.64 296.87L91.24 297.48L91.85 297.83L92.45 298.16L93.05 298.50L93.66 298.83L94.26 299.16L94.86 299.49L95.47 299.82L96.07 300.15L96.67 300.48L97.28 300.81L97.88 301.14L98.49 301.45L99.09 301.76L99.69 302.07L100.30 302.37L100.90 302.68L101.50 302.99L102.11 303.30L102.71 303.61L103.31 303.92L103.92 304.20L104.52 304.44L105.12 304.68L105.73 304.93L106.33 305.17L106.93 305.41L107.54 305.65L108.14 305.89L108.75 306.14L109.35 306.38L109.95 306.62L110.56 306.86L111.16 307.11L111.76 307.35L112.37 307.59L112.97 307.83L113.57 308.07L114.18 308.31L114.78 308.55L115.38 308.79L115.99 309.03L116.59 309.27L117.19 309.51L117.80 309.75L118.40 309.97L119.00 310.14L119.61 310.31L120.21 310.49L120.81 310.66L121.42 310.83L122.02 311.00L122.63 311.17L123.23 311.35L123.83 311.52L124.44 311.69L125.04 311.86L125.64 312.03L126.25 312.21L126.85 312.38L127.45 312.55L128.06 312.72L128.66 312.87L129.26 312.99L129.87 313.11L130.47 313.23L131.07 313.35L131.68 313.47L132.28 313.59L132.88 313.71L133.49 313.82L134.09 313.94L134.70 314.06L135.30 314.17L135.90 314.28L136.51 314.38L137.11 314.49L137.71 314.60L138.32 314.71L138.92 314.82L139.52 314.93L140.13 315.04L140.73 315.15L141.33 315.26L141.94 315.37L142.54 315.48L143.14 315.58L143.75 315.64L144.35 315.70L144.95 315.76L145.56 315.82L146.16 315.88L146.77 315.94L147.37 316.00L147.97 316.06L148.58 316.12L149.18 316.18L149.78 316.24L150.39 316.30L150.99 316.36L151.59 316.42L152.20 316.48L152.80 316.54L153.40 316.57L154.01 316.59L154.61 316.60L155.21 316.62L155.82 316.63L156.42 316.65L157.03 316.66L157.63 316.68L158.23 316.69L158.84 316.71L159.44 316.72L160.04 316.74L160.65 316.75L161.25 316.77L161.85 316.79L162.46 316.80L163.06 316.82L163.66 316.83L164.27 316.84L164.87 316.86L165.47 316.87L166.08 316.88L166.68 316.90L167.28 316.91L167.89 316.93L168.49 316.94L169.10 316.95L169.70 316.97L170.30 316.98L170.91 317.00L171.51 317.01L172.11 317.02L172.72 317.04L173.32 317.05L173.92 317.06L174.53 317.08L175.13 317.09L175.73 317.11L176.34 317.12L176.94 317.13L177.54 317.15L178.15 317.50L178.75 317.85L179.35 318.19L179.96 318.54L180.56 318.89L181.17 318.89L181.77 318.89L182.37 318.89L182.98 318.89L183.58 318.89L184.18 318.89L184.79 318.89L185.39 318.89L185.99 318.89L186.60 318.89L187.20 318.89L187.80 318.89" stroke="#000" stroke-width="1.3" fill="none"/>
<path d="M76.10 261.38V264.58M74.82 262.98H77.38M78.17 268.69V271.89M76.89 270.29H79.45M79.60 273.19V276.39M78.32 274.79H80.88M80.50 275.89V279.09M79.22 277.49H81.78M82.38 281.29V284.49M81.10 282.89H83.66M85.80 289.06V292.26M84.52 290.66H87.08M86.64 290.49V293.69M85.36 292.09H87.92M87.07 291.22V294.42M85.79 292.82H88.35M87.47 291.92V295.12M86.19 293.52H88.75M89.09 293.70V296.90M87.81 295.30H90.37M91.58 296.09V299.29M90.30 297.69H92.86M95.55 298.27V301.47M94.27 299.87H96.83M95.62 298.30V301.50M94.34 299.90H96.90M102.59 301.94V305.14M101.31 303.54H103.87M103.46 302.39V305.59M102.18 303.99H104.74M111.75 305.74V308.94M110.47 307.34H113.03M119.51 308.69V311.89M118.23 310.29H120.79M132.64 312.06V315.26M131.36 313.66H133.92M138.50 313.15V316.35M137.22 314.75H139.78M138.52 313.15V316.35M137.24 314.75H139.80M140.20 313.46V316.66M138.92 315.06H141.48M141.17 313.63V316.83M139.89 315.23H142.45M144.33 314.10V317.30M143.05 315.70H145.61M150.08 314.67V317.87M148.80 316.27H151.36M150.75 314.73V317.93M149.47 316.33H152.03M155.40 315.02V318.22M154.12 316.62H156.68M157.47 315.08V318.28M156.19 316.68H158.75M159.17 315.12V318.32M157.89 316.72H160.45M159.68 315.13V318.33M158.40 316.73H160.96M161.23 315.17V318.37M159.95 316.77H162.51M162.00 315.19V318.39M160.72 316.79H163.28M164.03 315.24V318.44M162.75 316.84H165.31M164.73 315.25V318.45M163.45 316.85H166.01M168.00 315.33V318.53M166.72 316.93H169.28M168.91 315.35V318.55M167.63 316.95H170.19M169.51 315.36V318.56M168.23 316.96H170.79M169.78 315.37V318.57M168.50 316.97H171.06M173.85 315.46V318.66M172.57 317.06H175.13M179.89 316.91V320.11M178.61 318.51H181.17M181.89 317.29V320.49M180.61 318.89H183.17" stroke="#000" stroke-width="0.8" fill="none"/>
<path d="M152.2 242.5H164.7" stroke="#c4c4c4" stroke-width="1.1"/>
<text x="169.4" y="245.3" font-size="7.0" fill="#222">≤ 4.5</text>
<path d="M152.2 250.3H164.7" stroke="#7a7a7a" stroke-width="1.2"/>
<text x="169.4" y="252.9" font-size="7.0" fill="#222">4.5-&lt;8</text>
<path d="M152.2 257.7H164.7" stroke="#000" stroke-width="1.5"/>
<text x="169.4" y="260.5" font-size="7.0" fill="#222">≥ 8</text>
<text x="151.6" y="267.6" font-size="7.0" fill="#222">p = 0.001</text>
<text x="36.9" y="351.4" font-size="6.75" font-weight="bold" fill="#111">Number at risk</text>
<text x="92.2" y="348.7" font-size="6.6" fill="#222">Months since transplant</text>
<path d="M42.3 357.2H53.2" stroke="#c4c4c4" stroke-width="1.1"/>
<text x="66.50" y="359.6" font-size="6.2" text-anchor="middle" fill="#333">14</text>
<text x="96.67" y="359.6" font-size="6.2" text-anchor="middle" fill="#333">1</text>
<text x="126.85" y="359.6" font-size="6.2" text-anchor="middle" fill="#333">0</text>
<text x="157.03" y="359.6" font-size="6.2" text-anchor="middle" fill="#333">0</text>
<text x="187.20" y="359.6" font-size="6.2" text-anchor="middle" fill="#333">0</text>
<path d="M42.3 363.9H53.2" stroke="#7a7a7a" stroke-width="1.2"/>
<text x="66.50" y="366.3" font-size="6.2" text-anchor="middle" fill="#333">129</text>
<text x="96.67" y="366.3" font-size="6.2" text-anchor="middle" fill="#333">45</text>
<text x="126.85" y="366.3" font-size="6.2" text-anchor="middle" fill="#333">15</text>
<text x="157.03" y="366.3" font-size="6.2" text-anchor="middle" fill="#333">0</text>
<text x="187.20" y="366.3" font-size="6.2" text-anchor="middle" fill="#333">0</text>
<path d="M42.3 370.5H53.2" stroke="#000" stroke-width="1.5"/>
<text x="66.50" y="373.0" font-size="6.2" text-anchor="middle" fill="#333">478</text>
<text x="96.67" y="373.0" font-size="6.2" text-anchor="middle" fill="#333">118</text>
<text x="126.85" y="373.0" font-size="6.2" text-anchor="middle" fill="#333">43</text>
<text x="157.03" y="373.0" font-size="6.2" text-anchor="middle" fill="#333">15</text>
<text x="187.20" y="373.0" font-size="6.2" text-anchor="middle" fill="#333">2</text>
<text x="202.9" y="224.0" font-size="12.2" fill="#111" style="stroke:#111;stroke-width:0.45px">D.</text>
<text transform="translate(291.85,221.5) scale(0.925,1)" font-size="7.85" font-weight="bold" text-anchor="middle" fill="#111">Overall Survival</text>
<text transform="translate(291.85,229.6) scale(0.945,1)" font-size="7.85" font-weight="bold" text-anchor="middle" fill="#111">≤4.5 vs. 4.5-&lt;8 vs. ≥8 CD34+ cells/kg</text>
<path d="M227.00 235.0V325.80H357.20" stroke="#6a6a6a" stroke-width="1.5" fill="none"/>
<text x="221.7" y="324.90" font-size="6.3" text-anchor="end" fill="#444">0.0</text>
<text x="221.7" y="308.28" font-size="6.3" text-anchor="end" fill="#444">0.2</text>
<text x="221.7" y="291.66" font-size="6.3" text-anchor="end" fill="#444">0.4</text>
<text x="221.7" y="275.04" font-size="6.3" text-anchor="end" fill="#444">0.6</text>
<text x="221.7" y="258.42" font-size="6.3" text-anchor="end" fill="#444">0.8</text>
<text x="221.7" y="241.80" font-size="6.3" text-anchor="end" fill="#444">1.0</text>
<text x="231.50" y="337.5" font-size="6.4" text-anchor="middle" fill="#444">0</text>
<text x="261.68" y="337.5" font-size="6.4" text-anchor="middle" fill="#444">50</text>
<text x="291.85" y="337.5" font-size="6.4" text-anchor="middle" fill="#444">100</text>
<text x="322.02" y="337.5" font-size="6.4" text-anchor="middle" fill="#444">150</text>
<text x="352.20" y="337.5" font-size="6.4" text-anchor="middle" fill="#444">200</text>
<path d="M223.40 322.30H227.00M223.40 305.68H227.00M223.40 289.06H227.00M223.40 272.44H227.00M223.40 255.82H227.00M223.40 239.20H227.00M231.50 325.8V329.40M261.68 325.8V329.40M291.85 325.8V329.40M322.02 325.8V329.40M352.20 325.8V329.40" stroke="#8a8a8a" stroke-width="0.85" fill="none"/>
<text transform="translate(209.2,279.8) rotate(-90)" font-size="6.75" text-anchor="middle" fill="#444">Survival probability</text>
<path d="M231.50 239.20H233.97H233.97V257.01H249.00H249.00V262.94H251.60H251.60V268.88H253.83H253.83V286.69H263.49H263.49V292.62H278.33H278.33V304.49H294.63H294.63V310.43H340.13" stroke="#c4c4c4" stroke-width="1.0" fill="none"/>
<path d="M297.88 308.83V312.03M296.61 310.43H299.16" stroke="#c4c4c4" stroke-width="0.8" fill="none"/>
<path d="M231.50 239.20L232.10 239.62L232.71 240.04L233.31 240.47L233.91 240.89L234.52 241.31L235.12 241.73L235.72 242.15L236.33 242.58L236.93 243.00L237.53 243.42L238.14 243.84L238.74 244.26L239.35 244.68L239.95 245.23L240.55 245.78L241.16 246.32L241.76 246.87L242.36 247.42L242.97 247.96L243.57 248.51L244.17 249.05L244.78 249.60L245.38 250.15L245.98 250.69L246.59 251.24L247.19 251.78L247.79 252.33L248.40 253.14L249.00 253.95L249.60 254.76L250.21 255.57L250.81 256.37L251.42 257.18L252.02 257.99L252.62 258.80L253.23 259.61L253.83 260.42L254.43 261.23L255.04 261.78L255.64 262.21L256.24 262.65L256.85 263.09L257.45 263.53L258.05 263.97L258.66 264.40L259.26 264.84L259.86 265.28L260.47 265.72L261.07 266.15L261.68 266.56L262.28 266.94L262.88 267.32L263.49 267.70L264.09 268.08L264.69 268.46L265.30 268.84L265.90 269.22L266.50 269.60L267.11 269.98L267.71 270.36L268.31 270.65L268.92 270.94L269.52 271.24L270.12 271.53L270.73 271.82L271.33 272.11L271.93 272.40L272.54 272.69L273.14 272.98L273.75 273.27L274.35 273.55L274.95 273.82L275.56 274.10L276.16 274.38L276.76 274.66L277.37 274.93L277.97 275.21L278.57 275.49L279.18 275.76L279.78 276.04L280.38 276.32L280.99 276.62L281.59 276.99L282.19 277.35L282.80 277.72L283.40 278.09L284.00 278.45L284.61 278.82L285.21 279.19L285.81 279.55L286.42 279.92L287.02 280.29L287.63 280.65L288.23 281.02L288.83 281.24L289.44 281.36L290.04 281.49L290.64 281.61L291.25 281.73L291.85 281.86L292.45 281.98L293.06 282.10L293.66 282.23L294.26 282.35L294.87 282.47L295.47 282.60L296.07 282.72L296.68 282.79L297.28 282.85L297.88 282.91L298.49 282.97L299.09 283.03L299.70 283.09L300.30 283.15L300.90 283.21L301.51 283.27L302.11 283.33L302.71 283.39L303.32 283.44L303.92 283.52L304.52 283.63L305.13 283.75L305.73 283.87L306.33 283.98L306.94 284.10L307.54 284.22L308.14 284.33L308.75 284.45L309.35 284.57L309.95 284.68L310.56 284.80L311.16 284.92L311.77 285.01L312.37 285.08L312.97 285.14L313.58 285.21L314.18 285.27L314.78 285.34L315.39 285.40L315.99 285.47L316.17 285.49" stroke="#7a7a7a" stroke-width="1.2" fill="none"/>
<path d="M237.28 241.64V244.84M236.00 243.24H238.56M246.14 249.24V252.44M244.86 250.84H247.42M246.71 249.75V252.95M245.43 251.35H247.99M247.68 250.63V253.83M246.40 252.23H248.96M248.22 251.30V254.50M246.94 252.90H249.50M248.40 251.54V254.74M247.12 253.14H249.68M251.12 255.19V258.39M249.84 256.79H252.40M266.82 268.20V271.40M265.54 269.80H268.10M268.83 269.30V272.50M267.55 270.90H270.11M272.34 270.99V274.19M271.06 272.59H273.62M274.92 272.21V275.41M273.64 273.81H276.20M275.46 272.46V275.66M274.18 274.06H276.74M276.03 272.72V275.92M274.75 274.32H277.31M276.70 273.03V276.23M275.42 274.63H277.98M277.33 273.31V276.51M276.05 274.91H278.61M278.22 273.72V276.92M276.94 275.32H279.50M278.93 274.05V277.25M277.65 275.65H280.21M280.61 274.82V278.02M279.33 276.42H281.89M280.62 274.83V278.03M279.34 276.43H281.90M281.99 275.63V278.83M280.71 277.23H283.27M282.91 276.19V279.39M281.63 277.79H284.19M286.19 278.18V281.38M284.91 279.78H287.47M287.66 279.07V282.27M286.38 280.67H288.94M289.10 279.69V282.89M287.82 281.29H290.38M290.86 280.05V283.25M289.58 281.65H292.14M291.06 280.10V283.30M289.78 281.70H292.34M292.68 280.42V283.62M291.40 282.02H293.96M292.68 280.43V283.63M291.40 282.03H293.96M295.94 281.09V284.29M294.66 282.69H297.22M295.98 281.10V284.30M294.70 282.70H297.26M298.75 281.40V284.60M297.47 283.00H300.03M300.24 281.54V284.74M298.96 283.14H301.52M301.06 281.62V284.82M299.78 283.22H302.34M301.08 281.62V284.82M299.80 283.22H302.36M301.76 281.69V284.89M300.48 283.29H303.04M302.42 281.76V284.96M301.14 283.36H303.70M303.79 281.89V285.09M302.51 283.49H305.07M303.83 281.90V285.10M302.55 283.50H305.11M304.22 281.97V285.17M302.94 283.57H305.50M308.92 282.88V286.08M307.64 284.48H310.20M311.04 283.29V286.49M309.76 284.89H312.32M311.96 283.44V286.64M310.68 285.04H313.24M313.74 283.63V286.83M312.46 285.23H315.02" stroke="#7a7a7a" stroke-width="0.8" fill="none"/>
<path d="M231.50 239.20L232.10 239.62L232.71 240.04L233.31 240.47L233.91 240.89L234.52 241.31L235.12 241.73L235.72 242.15L236.33 242.58L236.93 243.00L237.53 243.42L238.14 243.84L238.74 244.26L239.35 244.68L239.95 245.23L240.55 245.78L241.16 246.32L241.76 246.87L242.36 247.42L242.97 247.96L243.57 248.51L244.17 249.05L244.78 249.60L245.38 250.15L245.98 250.69L246.59 251.24L247.19 251.78L247.79 252.33L248.40 253.14L249.00 253.95L249.60 254.76L250.21 255.57L250.81 256.37L251.42 257.18L252.02 257.99L252.62 258.80L253.23 259.61L253.83 260.42L254.43 261.23L255.04 261.78L255.64 262.21L256.24 262.65L256.85 263.09L257.45 263.53L258.05 263.97L258.66 264.40L259.26 264.84L259.86 265.28L260.47 265.72L261.07 266.15L261.68 266.56L262.28 266.94L262.88 267.31L263.49 267.68L264.09 268.06L264.69 268.43L265.30 268.81L265.90 269.18L266.50 269.55L267.11 269.93L267.71 270.30L268.31 270.68L268.92 271.05L269.52 271.43L270.12 271.80L270.73 272.17L271.33 272.54L271.93 272.90L272.54 273.27L273.14 273.63L273.75 274.00L274.35 274.36L274.95 274.73L275.56 275.10L276.16 275.46L276.76 275.83L277.37 276.19L277.97 276.56L278.57 276.92L279.18 277.29L279.78 277.70L280.38 278.17L280.99 278.64L281.59 279.11L282.19 279.58L282.80 280.05L283.40 280.52L284.00 280.99L284.61 281.46L285.21 281.92L285.81 282.34L286.42 282.75L287.02 283.17L287.63 283.59L288.23 284.01L288.83 284.43L289.44 284.85L290.04 285.27L290.64 285.69L291.25 285.99L291.85 286.28L292.45 286.56L293.06 286.85L293.66 287.13L294.26 287.42L294.87 287.70L295.47 287.99L296.07 288.27L296.68 288.56L297.28 288.84L297.88 289.12L298.49 289.41L299.09 289.69L299.70 289.92L300.30 290.11L300.90 290.30L301.51 290.49L302.11 290.68L302.71 290.86L303.32 291.05L303.92 291.24L304.52 291.43L305.13 291.62L305.73 291.81L306.33 292.00L306.94 292.13L307.54 292.25L308.14 292.37L308.75 292.48L309.35 292.60L309.95 292.72L310.56 292.83L311.16 292.95L311.77 293.07L312.37 293.18L312.97 293.30L313.58 293.42L314.18 293.52L314.78 293.62L315.39 293.71L315.99 293.81L316.59 293.90L317.20 294.00L317.80 294.09L318.40 294.19L319.01 294.28L319.61 294.38L320.21 294.47L320.82 294.57L321.42 294.66L322.02 294.76L322.63 294.85L323.23 294.95L323.84 295.04L324.44 295.16L325.04 295.29L325.65 295.41L326.25 295.53L326.85 295.65L327.46 295.77L328.06 295.89L328.66 296.01L329.27 296.13L329.87 296.26L330.47 296.38L331.08 296.50L331.68 296.62L332.28 296.74L332.89 297.09L333.49 297.60L334.10 298.10L334.70 298.61L335.30 299.12L335.91 299.12L336.51 299.12L337.11 299.12L337.72 299.12L338.32 299.12L338.92 299.12L339.53 299.12L340.13 299.12L340.73 299.12L341.34 299.12L341.94 299.12L342.54 299.12L343.15 299.12L343.75 299.12L344.35 299.12L344.96 299.12L345.56 299.12L346.17 299.12L346.77 299.12L347.37 299.12L347.98 299.12L348.58 299.12L349.18 299.12L349.79 299.12L350.39 299.12L350.99 299.12L351.60 299.12L352.20 299.12L352.68 299.12" stroke="#000" stroke-width="1.5" fill="none"/>
<path d="M236.52 241.11V244.31M235.24 242.71H237.80M240.50 244.13V247.33M239.22 245.73H241.78M241.36 244.91V248.11M240.08 246.51H242.64M242.25 245.71V248.91M240.97 247.31H243.53M243.76 247.08V250.28M242.48 248.68H245.04M244.02 247.31V250.51M242.74 248.91H245.30M244.06 247.35V250.55M242.78 248.95H245.34M245.75 248.88V252.08M244.47 250.48H247.03M246.69 249.73V252.93M245.41 251.33H247.97M249.40 252.89V256.09M248.12 254.49H250.68M250.60 254.49V257.69M249.32 256.09H251.88M251.66 255.91V259.11M250.38 257.51H252.94M251.95 256.30V259.50M250.67 257.90H253.23M252.44 256.96V260.16M251.16 258.56H253.72M255.44 260.47V263.67M254.16 262.07H256.72M255.87 260.78V263.98M254.59 262.38H257.15M256.30 261.10V264.30M255.02 262.70H257.58M258.55 262.72V265.92M257.27 264.32H259.83M259.22 263.21V266.41M257.94 264.81H260.50M259.71 263.56V266.76M258.43 265.16H260.99M262.26 265.33V268.53M260.98 266.93H263.54M263.94 266.36V269.56M262.66 267.96H265.22M264.59 266.77V269.97M263.31 268.37H265.87M265.00 267.02V270.22M263.72 268.62H266.28M265.26 267.19V270.39M263.98 268.79H266.54M266.47 267.93V271.13M265.19 269.53H267.75M266.51 267.96V271.16M265.23 269.56H267.79M266.52 267.97V271.17M265.24 269.57H267.80M266.58 268.00V271.20M265.30 269.60H267.86M267.15 268.35V271.55M265.87 269.95H268.43M267.53 268.59V271.79M266.25 270.19H268.81M269.29 269.68V272.88M268.01 271.28H270.57M269.78 269.99V273.19M268.50 271.59H271.06M272.67 271.75V274.95M271.39 273.35H273.95M272.93 271.91V275.11M271.65 273.51H274.21M273.21 272.08V275.28M271.93 273.68H274.49M273.49 272.24V275.44M272.21 273.84H274.77M273.71 272.38V275.58M272.43 273.98H274.99M273.91 272.50V275.70M272.63 274.10H275.19M273.95 272.52V275.72M272.67 274.12H275.23M274.32 272.75V275.95M273.04 274.35H275.60M274.34 272.76V275.96M273.06 274.36H275.62M275.15 273.25V276.45M273.87 274.85H276.43M275.93 273.72V276.92M274.65 275.32H277.21M277.81 274.86V278.06M276.53 276.46H279.09M278.31 275.16V278.36M277.03 276.76H279.59M279.02 275.59V278.79M277.74 277.19H280.30M279.51 275.89V279.09M278.23 277.49H280.79M279.79 276.11V279.31M278.51 277.71H281.07M280.26 276.47V279.67M278.98 278.07H281.54M280.61 276.75V279.95M279.33 278.35H281.89M281.29 277.27V280.47M280.01 278.87H282.57M281.31 277.29V280.49M280.03 278.89H282.59M281.76 277.64V280.84M280.48 279.24H283.04M282.17 277.96V281.16M280.89 279.56H283.45M283.81 279.24V282.44M282.53 280.84H285.09M284.18 279.53V282.73M282.90 281.13H285.46M284.55 279.82V283.02M283.27 281.42H285.83M285.81 280.73V283.93M284.53 282.33H287.09M285.90 280.80V284.00M284.62 282.40H287.18M287.65 282.01V285.21M286.37 283.61H288.93M287.78 282.10V285.30M286.50 283.70H289.06M287.97 282.23V285.43M286.69 283.83H289.25M289.64 283.40V286.60M288.36 285.00H290.92M289.71 283.45V286.65M288.43 285.05H290.99M289.83 283.53V286.73M288.55 285.13H291.11M290.08 283.70V286.90M288.80 285.30H291.36M290.33 283.87V287.07M289.05 285.47H291.61M291.78 284.64V287.84M290.50 286.24H293.06M292.64 285.05V288.25M291.36 286.65H293.92M292.66 285.06V288.26M291.38 286.66H293.94M293.39 285.40V288.60M292.11 287.00H294.67M294.11 285.74V288.94M292.83 287.34H295.39M294.59 285.97V289.17M293.31 287.57H295.87M295.87 286.57V289.77M294.59 288.17H297.15M296.51 286.88V290.08M295.23 288.48H297.79M297.76 287.47V290.67M296.48 289.07H299.04M298.53 287.83V291.03M297.25 289.43H299.81M299.84 288.36V291.56M298.56 289.96H301.12M300.11 288.45V291.65M298.83 290.05H301.39M300.77 288.66V291.86M299.49 290.26H302.05M302.38 289.16V292.36M301.10 290.76H303.66M302.56 289.22V292.42M301.28 290.82H303.84M303.14 289.40V292.60M301.86 291.00H304.42M303.33 289.46V292.66M302.05 291.06H304.61M303.96 289.65V292.85M302.68 291.25H305.24M304.37 289.78V292.98M303.09 291.38H305.65M306.20 290.35V293.55M304.92 291.95H307.48M306.59 290.47V293.67M305.31 292.07H307.87M306.77 290.50V293.70M305.49 292.10H308.05M307.41 290.63V293.83M306.13 292.23H308.69M307.93 290.72V293.92M306.65 292.32H309.21M308.09 290.76V293.96M306.81 292.36H309.37M308.20 290.78V293.98M306.92 292.38H309.48M309.00 290.93V294.13M307.72 292.53H310.28M309.22 290.98V294.18M307.94 292.58H310.50M310.29 291.18V294.38M309.01 292.78H311.57M310.33 291.19V294.39M309.05 292.79H311.61M310.52 291.23V294.43M309.24 292.83H311.80M311.67 291.45V294.65M310.39 293.05H312.95M311.94 291.50V294.70M310.66 293.10H313.22M312.14 291.54V294.74M310.86 293.14H313.42M312.80 291.67V294.87M311.52 293.27H314.08M313.33 291.77V294.97M312.05 293.37H314.61M313.71 291.84V295.04M312.43 293.44H314.99M316.56 292.30V295.50M315.28 293.90H317.84M316.82 292.34V295.54M315.54 293.94H318.10M317.99 292.52V295.72M316.71 294.12H319.27M318.01 292.53V295.73M316.73 294.13H319.29M318.16 292.55V295.75M316.88 294.15H319.44M318.80 292.65V295.85M317.52 294.25H320.08M318.92 292.67V295.87M317.64 294.27H320.20M319.56 292.77V295.97M318.28 294.37H320.84M319.89 292.82V296.02M318.61 294.42H321.17M320.61 292.93V296.13M319.33 294.53H321.89M320.85 292.97V296.17M319.57 294.57H322.13M320.87 292.98V296.18M319.59 294.58H322.15M320.90 292.98V296.18M319.62 294.58H322.18M321.16 293.02V296.22M319.88 294.62H322.44M321.94 293.14V296.34M320.66 294.74H323.22M323.69 293.42V296.62M322.41 295.02H324.97M324.76 293.63V296.83M323.48 295.23H326.04M324.94 293.66V296.86M323.66 295.26H326.22M324.98 293.67V296.87M323.70 295.27H326.26M325.21 293.72V296.92M323.93 295.32H326.49M325.82 293.84V297.04M324.54 295.44H327.10M325.87 293.85V297.05M324.59 295.45H327.15M326.03 293.88V297.08M324.75 295.48H327.31M326.48 293.97V297.17M325.20 295.57H327.76M327.06 294.09V297.29M325.78 295.69H328.34M327.41 294.16V297.36M326.13 295.76H328.69M327.93 294.27V297.47M326.65 295.87H329.21M328.46 294.37V297.57M327.18 295.97H329.74M328.49 294.38V297.58M327.21 295.98H329.77M328.77 294.43V297.63M327.49 296.03H330.05M329.89 294.66V297.86M328.61 296.26H331.17M330.04 294.69V297.89M328.76 296.29H331.32M330.16 294.71V297.91M328.88 296.31H331.44M330.22 294.73V297.93M328.94 296.33H331.50M330.86 294.85V298.05M329.58 296.45H332.14M331.12 294.91V298.11M329.84 296.51H332.40M333.19 295.75V298.95M331.91 297.35H334.47M333.47 295.98V299.18M332.19 297.58H334.75M334.41 296.77V299.97M333.13 298.37H335.69M336.16 297.52V300.72M334.88 299.12H337.44M337.42 297.52V300.72M336.14 299.12H338.70M338.09 297.52V300.72M336.81 299.12H339.37M338.55 297.52V300.72M337.27 299.12H339.83M338.68 297.52V300.72M337.40 299.12H339.96M339.17 297.52V300.72M337.89 299.12H340.45M339.89 297.52V300.72M338.61 299.12H341.17M341.31 297.52V300.72M340.03 299.12H342.59M341.57 297.52V300.72M340.29 299.12H342.85M341.69 297.52V300.72M340.41 299.12H342.97M342.52 297.52V300.72M341.24 299.12H343.80M343.39 297.52V300.72M342.11 299.12H344.67M345.62 297.52V300.72M344.34 299.12H346.90M346.53 297.52V300.72M345.25 299.12H347.81M347.31 297.52V300.72M346.03 299.12H348.59M347.89 297.52V300.72M346.61 299.12H349.17M348.21 297.52V300.72M346.93 299.12H349.49M348.24 297.52V300.72M346.96 299.12H349.52M348.36 297.52V300.72M347.08 299.12H349.64M348.47 297.52V300.72M347.19 299.12H349.75M349.98 297.52V300.72M348.70 299.12H351.26" stroke="#000" stroke-width="0.8" fill="none"/>
<path d="M244.79 245.98V249.58M243.35 247.78H246.23M246.84 247.84V251.44M245.40 249.64H248.28M252.26 254.68V258.28M250.82 256.48H253.70M258.62 260.75V264.35M257.18 262.55H260.06M262.70 263.57V267.17M261.26 265.37H264.14M265.10 265.06V268.66M263.66 266.86H266.54" stroke="#999" stroke-width="0.8" fill="none"/>
<path d="M317.2 242.5H329.7" stroke="#c4c4c4" stroke-width="1.1"/>
<text x="334.4" y="245.3" font-size="7.0" fill="#222">≤ 4.5</text>
<path d="M317.2 250.3H329.7" stroke="#7a7a7a" stroke-width="1.2"/>
<text x="334.4" y="252.9" font-size="7.0" fill="#222">4.5-&lt;8</text>
<path d="M317.2 257.7H329.7" stroke="#000" stroke-width="1.5"/>
<text x="334.4" y="260.5" font-size="7.0" fill="#222">≥ 8</text>
<text x="316.6" y="267.6" font-size="7.0" fill="#222">p = 0.029</text>
<text x="201.9" y="351.4" font-size="6.75" font-weight="bold" fill="#111">Number at risk</text>
<text x="257.2" y="348.7" font-size="6.6" fill="#222">Months since transplant</text>
<path d="M207.3 357.2H218.2" stroke="#c4c4c4" stroke-width="1.1"/>
<text x="231.50" y="359.6" font-size="6.2" text-anchor="middle" fill="#333">14</text>
<text x="261.68" y="359.6" font-size="6.2" text-anchor="middle" fill="#333">6</text>
<text x="291.85" y="359.6" font-size="6.2" text-anchor="middle" fill="#333">3</text>
<text x="322.02" y="359.6" font-size="6.2" text-anchor="middle" fill="#333">1</text>
<text x="352.20" y="359.6" font-size="6.2" text-anchor="middle" fill="#333">0</text>
<path d="M207.3 363.9H218.2" stroke="#7a7a7a" stroke-width="1.2"/>
<text x="231.50" y="366.3" font-size="6.2" text-anchor="middle" fill="#333">129</text>
<text x="261.68" y="366.3" font-size="6.2" text-anchor="middle" fill="#333">81</text>
<text x="291.85" y="366.3" font-size="6.2" text-anchor="middle" fill="#333">40</text>
<text x="322.02" y="366.3" font-size="6.2" text-anchor="middle" fill="#333">0</text>
<text x="352.20" y="366.3" font-size="6.2" text-anchor="middle" fill="#333">0</text>
<path d="M207.3 370.5H218.2" stroke="#000" stroke-width="1.5"/>
<text x="231.50" y="373.0" font-size="6.2" text-anchor="middle" fill="#333">478</text>
<text x="261.68" y="373.0" font-size="6.2" text-anchor="middle" fill="#333">308</text>
<text x="291.85" y="373.0" font-size="6.2" text-anchor="middle" fill="#333">173</text>
<text x="322.02" y="373.0" font-size="6.2" text-anchor="middle" fill="#333">66</text>
<text x="352.20" y="373.0" font-size="6.2" text-anchor="middle" fill="#333">9</text></g>
<text x="30" y="433.8" font-size="9.1" font-weight="bold" fill="#111" style="stroke:#111;stroke-width:0.25px">Table 1 – Comparison of outcomes and treatment characteristics by sub-groups of CD34<tspan font-size="5.5" dy="-3">+</tspan><tspan dy="3"> cells  collection</tspan></text>
<g class="tb"><path d="M27.9 448.4H504.7M27.9 482.0H504.7M27.9 493.0H504.7M27.9 504.8H504.7M27.9 515.9H504.7M27.9 527.6H504.7M27.9 538.7H504.7M27.9 549.9H504.7M27.9 561.6H504.7M27.9 572.8H504.7M27.9 586.8H504.7M27.9 598.7H504.7M27.9 612.6H504.7M27.9 626.1H504.7M27.9 637.8H504.7" stroke="#626262" stroke-width="1.5" fill="none"/>
<path d="M28.4 448.4V637.8M164.4 448.4V637.8M227.3 448.4V637.8M308.5 448.4V637.8M385.8 448.4V637.8M460.5 448.4V637.8M504.2 448.4V637.8" stroke="#3a3a3a" stroke-width="1.15" fill="none"/>
<text transform="translate(30.80,457.90) scale(0.93,1)" font-size="8.2" text-anchor="start" font-weight="bold" fill="#111">Variable</text>
<text transform="translate(195.85,457.90) scale(0.93,1)" font-size="8.2" text-anchor="middle" font-weight="bold" fill="#111">All patients</text>
<text transform="translate(195.85,478.80) scale(1.0,1)" font-size="8.1" text-anchor="middle" fill="#111">(n=621)</text>
<text transform="translate(267.90,458.00) scale(0.93,1)" font-size="8.2" text-anchor="middle" font-weight="bold" fill="#111">≤4.5</text>
<text transform="translate(267.90,468.00) scale(1.0,1)" font-size="8.0" text-anchor="middle" fill="#111">(x10<tspan font-size="4.8" dy="-3">6</tspan><tspan dy="3"> CD34</tspan><tspan font-size="4.8" dy="-3">+</tspan><tspan dy="3"> cells/kg)</tspan></text>
<text transform="translate(267.90,478.60) scale(1.0,1)" font-size="8.1" text-anchor="middle" fill="#111">(n=14)</text>
<text transform="translate(347.15,458.00) scale(0.93,1)" font-size="8.2" text-anchor="middle" font-weight="bold" fill="#111">4.5-8</text>
<text transform="translate(347.15,468.00) scale(1.0,1)" font-size="8.0" text-anchor="middle" fill="#111">(x10<tspan font-size="4.8" dy="-3">6</tspan><tspan dy="3"> CD34</tspan><tspan font-size="4.8" dy="-3">+</tspan><tspan dy="3"> cells/kg)</tspan></text>
<text transform="translate(347.15,478.60) scale(1.0,1)" font-size="8.1" text-anchor="middle" fill="#111">(n=129)</text>
<text transform="translate(423.15,458.00) scale(0.93,1)" font-size="8.2" text-anchor="middle" font-weight="bold" fill="#111">≥8</text>
<text transform="translate(423.15,468.00) scale(1.0,1)" font-size="8.0" text-anchor="middle" fill="#111">(x10<tspan font-size="4.8" dy="-3">6</tspan><tspan dy="3"> CD34</tspan><tspan font-size="4.8" dy="-3">+</tspan><tspan dy="3"> cells/kg)</tspan></text>
<text transform="translate(423.15,478.60) scale(1.0,1)" font-size="8.1" text-anchor="middle" fill="#111">(n=478)</text>
<text transform="translate(482.35,457.90) scale(0.93,1)" font-size="8.2" text-anchor="middle" font-weight="bold" fill="#111">p-value</text>
<text x="30.90" y="491.10" font-size="8.2" text-anchor="start" fill="#111" textLength="77.6" lengthAdjust="spacingAndGlyphs"><tspan font-weight="bold">Median PFS</tspan> - months</text>
<text transform="translate(195.85,491.10) scale(0.98,1)" font-size="8.4" text-anchor="middle" fill="#111">26.3</text>
<text transform="translate(267.90,491.10) scale(0.98,1)" font-size="8.4" text-anchor="middle" fill="#111">11.4</text>
<text transform="translate(347.15,491.10) scale(0.98,1)" font-size="8.4" text-anchor="middle" fill="#111">34.5</text>
<text transform="translate(423.15,491.10) scale(0.98,1)" font-size="8.4" text-anchor="middle" fill="#111">24.1</text>
<text transform="translate(482.35,491.10) scale(0.98,1)" font-size="8.4" text-anchor="middle" font-weight="bold" fill="#111">0.001</text>
<text x="30.90" y="502.30" font-size="8.2" text-anchor="start" fill="#111" textLength="74.9" lengthAdjust="spacingAndGlyphs"><tspan font-weight="bold">Median OS</tspan> - months</text>
<text transform="translate(195.85,502.30) scale(0.98,1)" font-size="8.4" text-anchor="middle" fill="#111">84.9</text>
<text transform="translate(267.90,502.30) scale(0.98,1)" font-size="8.4" text-anchor="middle" fill="#111">37.9</text>
<text transform="translate(347.15,502.30) scale(0.98,1)" font-size="8.4" text-anchor="middle" fill="#111">94.8</text>
<text transform="translate(423.15,502.30) scale(0.98,1)" font-size="8.4" text-anchor="middle" fill="#111">84.9</text>
<text transform="translate(482.35,502.30) scale(0.98,1)" font-size="8.4" text-anchor="middle" font-weight="bold" fill="#111">0.029</text>
<text x="30.90" y="513.70" font-size="8.2" text-anchor="start" fill="#111" textLength="94.1" lengthAdjust="spacingAndGlyphs"><tspan font-weight="bold">Induction Regimen</tspan> - n (%)</text>
<text transform="translate(482.35,513.70) scale(0.98,1)" font-size="8.4" text-anchor="middle" font-weight="bold" fill="#111">&lt;0.001</text>
<text x="41.50" y="524.40" font-size="8.2" text-anchor="start" fill="#111" textLength="65.9" lengthAdjust="spacingAndGlyphs">Bortezomib-based</text>
<text transform="translate(195.85,524.40) scale(0.98,1)" font-size="8.4" text-anchor="middle" fill="#111">110 (18)</text>
<text transform="translate(267.90,524.40) scale(0.98,1)" font-size="8.4" text-anchor="middle" fill="#111">4 (29)</text>
<text transform="translate(347.15,524.40) scale(0.98,1)" font-size="8.4" text-anchor="middle" fill="#111">39 (31)</text>
<text transform="translate(423.15,524.40) scale(0.98,1)" font-size="8.4" text-anchor="middle" fill="#111">67 (14)</text>
<text x="41.50" y="536.30" font-size="8.2" text-anchor="start" fill="#111" textLength="16.3" lengthAdjust="spacingAndGlyphs">HDD</text>
<text transform="translate(195.85,536.30) scale(0.98,1)" font-size="8.4" text-anchor="middle" fill="#111">255 (42)</text>
<text transform="translate(267.90,536.30) scale(0.98,1)" font-size="8.4" text-anchor="middle" fill="#111">5 (36)</text>
<text transform="translate(347.15,536.30) scale(0.98,1)" font-size="8.4" text-anchor="middle" fill="#111">56 (44)</text>
<text transform="translate(423.15,536.30) scale(0.98,1)" font-size="8.4" text-anchor="middle" fill="#111">194 (42)</text>
<text x="41.50" y="547.40" font-size="8.2" text-anchor="start" fill="#111" textLength="16.0" lengthAdjust="spacingAndGlyphs">VAD</text>
<text transform="translate(195.85,547.40) scale(0.98,1)" font-size="8.4" text-anchor="middle" fill="#111">167 (28)</text>
<text transform="translate(267.90,547.40) scale(0.98,1)" font-size="8.4" text-anchor="middle" fill="#111">1 (7)</text>
<text transform="translate(347.15,547.40) scale(0.98,1)" font-size="8.4" text-anchor="middle" fill="#111">5 (4)</text>
<text transform="translate(423.15,547.40) scale(0.98,1)" font-size="8.4" text-anchor="middle" fill="#111">161 (35)</text>
<text x="41.50" y="558.20" font-size="8.2" text-anchor="start" fill="#111" textLength="20.6" lengthAdjust="spacingAndGlyphs">Other</text>
<text transform="translate(195.85,558.20) scale(0.98,1)" font-size="8.4" text-anchor="middle" fill="#111">73 (12)</text>
<text transform="translate(267.90,558.20) scale(0.98,1)" font-size="8.4" text-anchor="middle" fill="#111">4 (29)</text>
<text transform="translate(347.15,558.20) scale(0.98,1)" font-size="8.4" text-anchor="middle" fill="#111">27 (21)</text>
<text transform="translate(423.15,558.20) scale(0.98,1)" font-size="8.4" text-anchor="middle" fill="#111">42 (9)</text>
<text x="30.90" y="570.60" font-size="8.2" text-anchor="start" fill="#111" textLength="123.9" lengthAdjust="spacingAndGlyphs"><tspan font-weight="bold">Best response before ASCT</tspan> - n (%)</text>
<text transform="translate(482.35,570.60) scale(0.98,1)" font-size="8.4" text-anchor="middle" font-weight="bold" fill="#111">0.024</text>
<text x="41.50" y="582.20" font-size="8.2" text-anchor="start" fill="#111" textLength="24.8" lengthAdjust="spacingAndGlyphs">≥VGPR</text>
<text transform="translate(195.85,582.20) scale(0.98,1)" font-size="8.4" text-anchor="middle" fill="#111">211 (45)</text>
<text transform="translate(267.90,582.20) scale(0.98,1)" font-size="8.4" text-anchor="middle" fill="#111">5 (41)</text>
<text transform="translate(347.15,582.20) scale(0.98,1)" font-size="8.4" text-anchor="middle" fill="#111">54 (50)</text>
<text transform="translate(423.15,582.20) scale(0.98,1)" font-size="8.4" text-anchor="middle" fill="#111">152 (43)</text>
<text x="41.50" y="595.70" font-size="8.2" text-anchor="start" fill="#111" textLength="9.6" lengthAdjust="spacingAndGlyphs">PR</text>
<text transform="translate(195.85,595.70) scale(0.98,1)" font-size="8.4" text-anchor="middle" fill="#111">203 (43)</text>
<text transform="translate(267.90,595.70) scale(0.98,1)" font-size="8.4" text-anchor="middle" fill="#111">5 (42)</text>
<text transform="translate(347.15,595.70) scale(0.98,1)" font-size="8.4" text-anchor="middle" fill="#111">38 (36)</text>
<text transform="translate(423.15,595.70) scale(0.98,1)" font-size="8.4" text-anchor="middle" fill="#111">160 (45)</text>
<text x="41.50" y="607.60" font-size="8.2" text-anchor="start" fill="#111" textLength="14.5" lengthAdjust="spacingAndGlyphs">&lt;PR</text>
<text transform="translate(195.85,607.60) scale(0.98,1)" font-size="8.4" text-anchor="middle" fill="#111">59 (12)</text>
<text transform="translate(267.90,607.60) scale(0.98,1)" font-size="8.4" text-anchor="middle" fill="#111">2 (17)</text>
<text transform="translate(347.15,607.60) scale(0.98,1)" font-size="8.4" text-anchor="middle" fill="#111">15 (14)</text>
<text transform="translate(423.15,607.60) scale(0.98,1)" font-size="8.4" text-anchor="middle" fill="#111">42 (12)</text>
<text x="30.90" y="621.90" font-size="8.2" text-anchor="start" fill="#111" textLength="72.6" lengthAdjust="spacingAndGlyphs"><tspan font-weight="bold">Second ASCT</tspan> - n (%)</text>
<text transform="translate(195.85,621.90) scale(0.98,1)" font-size="8.4" text-anchor="middle" fill="#111">94 (15)</text>
<text transform="translate(267.90,621.90) scale(0.98,1)" font-size="8.4" text-anchor="middle" fill="#111">2 (14)</text>
<text transform="translate(347.15,621.90) scale(0.98,1)" font-size="8.4" text-anchor="middle" fill="#111">19 (15)</text>
<text transform="translate(423.15,621.90) scale(0.98,1)" font-size="8.4" text-anchor="middle" fill="#111">73 (15)</text>
<text transform="translate(482.35,621.90) scale(0.98,1)" font-size="8.4" text-anchor="middle" fill="#111">1</text>
<text x="30.90" y="635.00" font-size="8.2" text-anchor="start" fill="#111" textLength="73.7" lengthAdjust="spacingAndGlyphs"><tspan font-weight="bold">Maintenance</tspan> - n (%)</text>
<text transform="translate(195.85,635.00) scale(0.98,1)" font-size="8.4" text-anchor="middle" fill="#111">191 (31)</text>
<text transform="translate(267.90,635.00) scale(0.98,1)" font-size="8.4" text-anchor="middle" fill="#111">7 (50)</text>
<text transform="translate(347.15,635.00) scale(0.98,1)" font-size="8.4" text-anchor="middle" fill="#111">52 (40)</text>
<text transform="translate(423.15,635.00) scale(0.98,1)" font-size="8.4" text-anchor="middle" fill="#111">132 (28)</text>
<text transform="translate(482.35,635.00) scale(0.98,1)" font-size="8.4" text-anchor="middle" font-weight="bold" fill="#111">0.006</text></g>
</svg>
</body></html>
